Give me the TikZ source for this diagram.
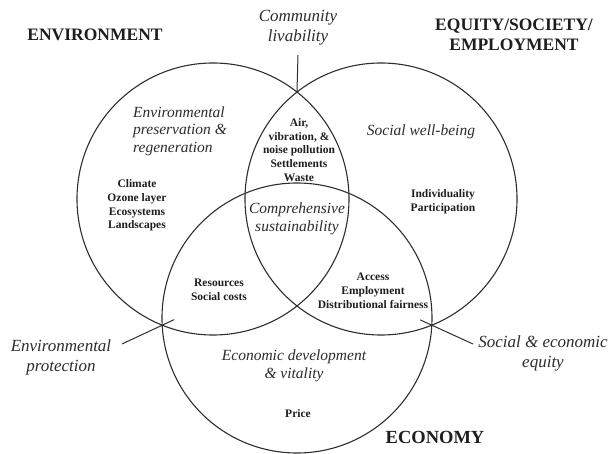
\documentclass[tikz,border=0pt]{standalone}
\usepackage{fontspec}
\setmainfont{Liberation Serif}
\usetikzlibrary{intersections,calc}

\definecolor{ink}{HTML}{1E1E1E}
\definecolor{ring}{HTML}{2E2E2E}
\definecolor{soft}{HTML}{2C2C2C}

\tikzset{
  ringline/.style={draw=ring, line width=1.1pt},
  leader/.style={draw=ring, line width=1pt},
  sphere/.style={font=\fontsize{17.5}{20}\selectfont\bfseries, text=ink, align=center, inner sep=0pt},
  outerlabel/.style={font=\fontsize{17}{20}\selectfont\itshape, text=soft, align=center, inner sep=0pt},
  innerlabel/.style={font=\fontsize{15.5}{17.5}\selectfont\itshape, text=soft, align=center, inner sep=0pt},
  itemlist/.style={font=\fontsize{11.5}{13.8}\selectfont\bfseries, text=ink, align=center, inner sep=0pt}
}

\begin{document}
\begin{tikzpicture}[x=1pt, y=-1pt]
  \useasboundingbox (0,0) rectangle (611,454);

  % the three overlapping spheres
  \path[ringline, name path=envc] (213,199) circle[radius=136];
  \path[ringline, name path=socc] (381,199) circle[radius=136];
  \path[ringline, name path=ecoc] (297,318) circle[radius=135];

  % crossing points that the leader lines meet
  \path[name intersections={of=envc and socc, by={es-a,es-b}}];
  \path[name intersections={of=envc and ecoc, by={ee-a,ee-b}}];
  \path[name intersections={of=socc and ecoc, by={se-a,se-b}}];

  % sphere titles
  \node[sphere] (envtitle) at (95,35) {ENVIRONMENT};
  \node[sphere] (soctitle) at (514,35) {EQUITY/SOCIETY/\\EMPLOYMENT};
  \node[sphere, font=\fontsize{18.5}{20}\selectfont\bfseries] (ecotitle) at (435,437) {ECONOMY};

  % outer goals
  \node[outerlabel] (livability) at (298,28) {Community\\livability};
  \node[outerlabel] (protection) at (61,357) {Environmental\\protection};
  \node[outerlabel] (equity) at (543,353.5) {Social \& economic\\equity};

  % leader line ends
  \coordinate (liv-end) at (298,55);
  \coordinate (prot-end) at (122,344);
  \coordinate (eq-end) at (473,344);

  \draw[leader] (liv-end) -- (es-b);
  \draw[leader] (prot-end) -- ($(prot-end)!1.3!(ee-a)$);
  \draw[leader] (eq-end) -- ($(eq-end)!1.28!(se-a)$);

  % region labels
  \node[innerlabel, align=left, anchor=west] (envgoal) at (133,131)
    {Environmental\\preservation \&\\regeneration};
  \node[innerlabel] (socgoal) at (421,132) {Social well-being};
  \node[innerlabel] (core) at (297,219) {Comprehensive\\sustainability};
  \node[innerlabel] (ecogoal) at (294,366) {Economic development\\\& vitality};

  % region contents
  \node[itemlist] (pollution) at (299,150)
    {Air,\\vibration, \&\\noise pollution\\Settlements\\Waste};
  \node[itemlist] (envitems) at (137,205.5)
    {Climate\\Ozone layer\\Ecosystems\\Landscapes};
  \node[itemlist] (socitems) at (443,202) {Individuality\\Participation};
  \node[itemlist] (resources) at (219,289.5) {Resources\\Social costs};
  \node[itemlist] (access) at (373,291)
    {Access\\Employment\\Distributional fairness};
  \node[itemlist] (price) at (298,414) {Price};
\end{tikzpicture}
\end{document}
